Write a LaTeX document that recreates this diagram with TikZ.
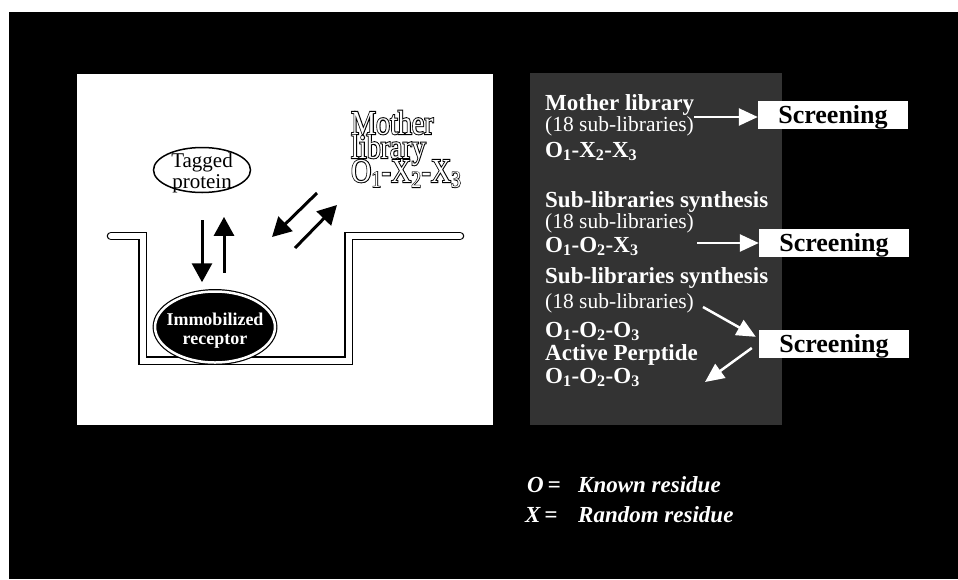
\documentclass[tikz,border=0pt]{standalone}
\usepackage{fontspec}
\setmainfont{Liberation Serif}
\newfontfamily\outlinefont[FakeBold=6]{Liberation Serif}
\usepackage{graphicx}
\usetikzlibrary{arrows.meta,shapes.geometric,calc}
\newcommand{\fsz}[2]{\fontsize{#1}{#2}\selectfont}
\newcommand{\sbs}[1]{\textsubscript{#1}}
\newcommand{\motherlines}{\scalebox{1}[1.2]{\vbox{\baselineskip=20pt\lineskiplimit=-100pt\lineskip=0pt
  \hbox{Mother}\hbox{library}\hbox{O\sbs{1}-X\sbs{2}-X\sbs{3}}}}}

\begin{document}
\begin{tikzpicture}[x=1pt,y=-1pt,
  blackarrow/.style={line width=3pt,-{Triangle[width=20pt,length=19pt]},draw=black},
  whitearrow/.style={line width=2.5pt,-{Triangle[width=17pt,length=19pt]},draw=white},
  screenbox/.style={rectangle,fill=white,minimum width=150pt,minimum height=28pt,inner sep=0pt,
     font=\fsz{26}{28}\bfseries,text height=18pt,text depth=2pt},
  coltext/.style={anchor=base west,inner sep=0pt,text=white},
  bigbold/.style={coltext,font=\fsz{23}{25}\bfseries},
  paren/.style={coltext,font=\fsz{21.5}{24}},
  legendtext/.style={anchor=base west,inner sep=0pt,text=white,font=\fsz{23}{25}\bfseries\itshape},
  hollowback/.style={anchor=base west,inner sep=0pt,text=black,font=\fsz{28}{20}\outlinefont},
  hollowfront/.style={anchor=base west,inner sep=0pt,text=white,font=\fsz{28}{20}}
]
\useasboundingbox (0,0) rectangle (958,579);
% backgrounds
\fill[white] (0,0) rectangle (958,579);
\fill[black] (9,12) rectangle (958,579);
\fill[white] (77,74) rectangle (493,425);
\fill[black!80] (530,73) rectangle (782,425);

% well
\draw[black,line width=1.3pt,double=white,double distance=6pt,line cap=round,line join=miter]
  (111,236) -- (142.5,236) -- (142.5,360.5) -- (348.5,360.5) -- (348.5,236) -- (460,236);

% tagged protein
\node[ellipse,draw=black,line width=1.5pt,fill=white,minimum width=97pt,minimum height=45pt,inner sep=0pt] (tp) at (202,170) {};
\node[font=\fsz{21}{21},align=center,inner sep=0pt] (tpt) at (202,172.5) {Tagged\\protein};

% immobilized receptor
\node[ellipse,fill=black,draw=black,double=white,double distance=2.5pt,line width=1.2pt,
      minimum width=120pt,minimum height=71pt,inner sep=0pt] (ir) at (215,327) {};
\node[font=\fsz{18}{19}\bfseries,text=white,align=center,inner sep=0pt] (irt) at (215,331) {Immobilized\\receptor};

% vertical arrows
\draw[blackarrow] ($(tp.south)+(0,27)$) -- ++(0,62);
\draw[blackarrow] ($(ir.north)+(9,-18)$) -- ++(0,-56);

% hollow mother library text
\node[hollowback] (mb) at (351,182) {\motherlines};
\node[hollowfront] (ml) at (351,182) {\motherlines};

% diagonal arrows
\coordinate (d1s) at (317,193);
\coordinate (d1e) at (272,237);
\coordinate (d2s) at (295,248);
\coordinate (d2e) at (337,205);
\draw[blackarrow] (d1s) -- (d1e);
\draw[blackarrow] (d2s) -- (d2e);

% right column
\node[bigbold] (t1) at (545,110) {Mother library};
\node[paren]   (t2) at (545,131) {(18 sub-libraries)};
\node[bigbold] (t3) at (545,157) {O\sbs{1}-X\sbs{2}-X\sbs{3}};
\node[bigbold] (t4) at (545,207) {Sub-libraries synthesis};
\node[paren]   (t5) at (545,228) {(18 sub-libraries)};
\node[bigbold] (t6) at (545,252) {O\sbs{1}-O\sbs{2}-X\sbs{3}};
\node[bigbold] (t7) at (545,283) {Sub-libraries synthesis};
\node[paren]   (t8) at (545,308) {(18 sub-libraries)};
\node[bigbold] (t9) at (545,337) {O\sbs{1}-O\sbs{2}-O\sbs{3}};
\node[bigbold] (t10) at (545,360) {Active Perptide};
\node[bigbold] (t11) at (545,383) {O\sbs{1}-O\sbs{2}-O\sbs{3}};

% screening boxes
\node[screenbox] (sc1) at (833,115) {Screening};
\node[screenbox] (sc2) at (834,243) {Screening};
\node[screenbox] (sc3) at (834,344) {Screening};

% white arrows
\coordinate (aS) at (694,117);
\coordinate (bS) at (697,243);
\coordinate (cS) at (703,307);
\coordinate (dE) at (705,382);
\draw[whitearrow] (aS) -- (aS -| sc1.west);
\draw[whitearrow] (bS) -- (sc2.west);
\draw[whitearrow] (cS) -- ($(sc3.north west)+(-3,7)$);
\draw[whitearrow] ($(sc3.west)+(-7,4)$) -- (dE);

% legend
\node[legendtext] (l1) at (527,492) {O\,=};
\node[legendtext] (l2) at (578,492) {Known residue};
\node[legendtext] (l3) at (525,522) {X\,=};
\node[legendtext] (l4) at (578,522) {Random residue};
\end{tikzpicture}
\end{document}
